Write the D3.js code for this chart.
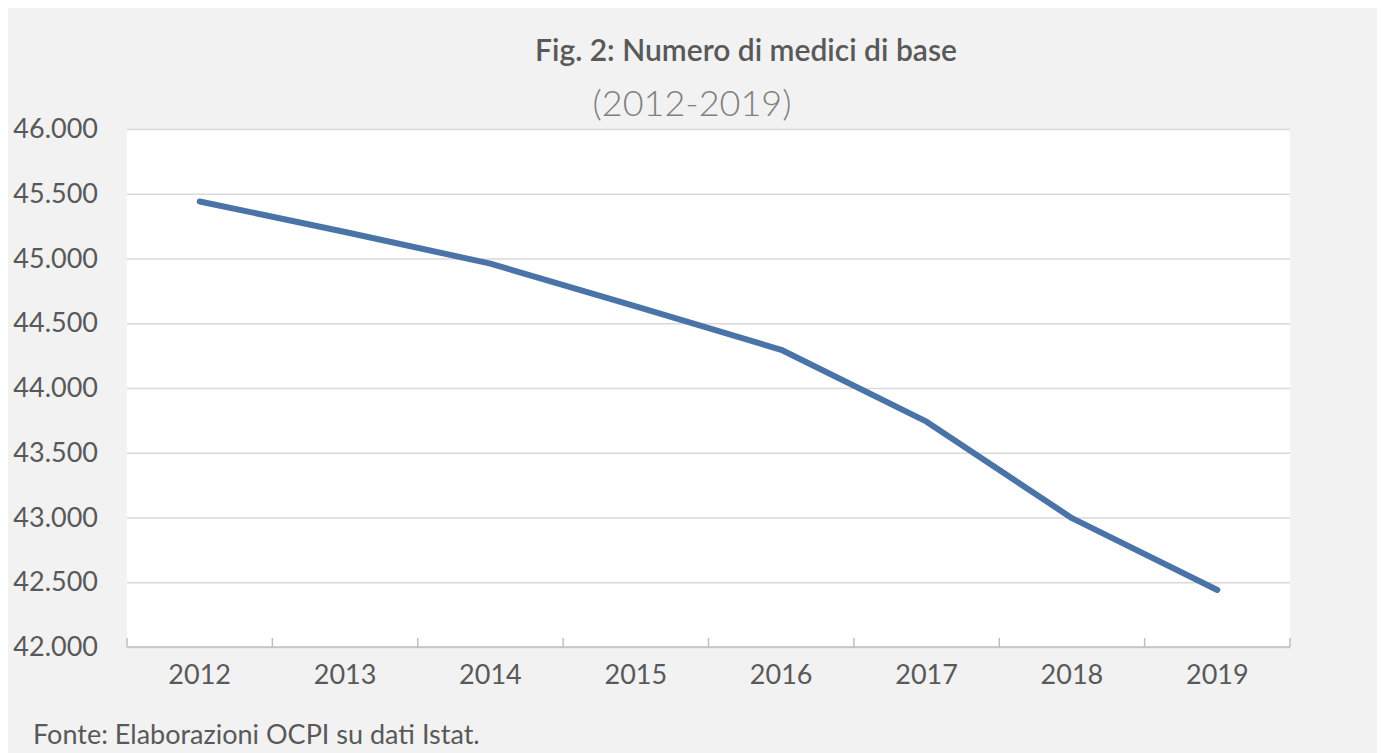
<!DOCTYPE html>
<html>
<head>
<meta charset="utf-8">
<script src="https://cdn.jsdelivr.net/npm/d3@7"></script>
<style>
  body { margin: 0; background: #fff; }
  svg { display: block; font-family: Lato, 'Open Sans', sans-serif; }
</style>
</head>
<body>
<div id="chart"></div>
<script>
const WIDTH = 1381;
const HEIGHT = 753;

const years = ['2012', '2013', '2014', '2015', '2016', '2017', '2018', '2019'];
const medici = [45440, 45205, 44960, 44630, 44295, 43740, 42995, 42440];
const yTicks = [42000, 42500, 43000, 43500, 44000, 44500, 45000, 45500, 46000];

const TITLE = 'Fig. 2: Numero di medici di base';
const SUBTITLE = '(2012-2019)';
const SOURCE = 'Fonte: Elaborazioni OCPI su dati Istat.';

const FONT = 'Lato, "Open Sans", sans-serif';

function translate(x, y) {
  return `translate(${x}, ${y})`;
}

const formatIt = d3.formatLocale({decimal: ',', thousands: '.', grouping: [3], currency: ['', '€']}).format(',.0f');

const svg = d3.select('#chart').append('svg')
  .attr('width', WIDTH)
  .attr('height', HEIGHT);

// chart background
svg.append('rect')
  .attr('x', 8).attr('y', 8)
  .attr('width', 1369).attr('height', HEIGHT - 8)
  .attr('fill', '#f2f2f2');

const margin = {top: 129, right: 91, bottom: 106, left: 127};
const width = WIDTH - margin.left - margin.right;
const height = HEIGHT - margin.top - margin.bottom;

const g = svg.append('g').attr('transform', translate(margin.left, margin.top));

g.append('rect')
  .attr('width', width)
  .attr('height', height)
  .attr('fill', '#fff');

const x = d3.scaleBand().domain(years).range([0, width]);
const y = d3.scaleLinear().domain([42000, 46000]).range([height, 0]);

// gridlines + y labels
const yAxis = g.append('g')
  .call(d3.axisLeft(y).tickValues(yTicks).tickSize(-width).tickPadding(29).tickFormat(formatIt));
yAxis.attr('font-family', FONT);
yAxis.select('.domain').remove();
yAxis.selectAll('.tick line')
  .attr('stroke', '#d9d9d9')
  .attr('stroke-width', 1.5);
yAxis.selectAll('.tick text')
  .attr('fill', '#595959')
  .attr('font-size', '27px');

// x axis, ticks at band edges pointing up
const xAxis = g.append('g').attr('transform', translate(0, height));
xAxis.append('line')
  .attr('x2', width)
  .attr('stroke', '#bfbfbf')
  .attr('stroke-width', 1.5);
xAxis.selectAll('.edge')
  .data(years.concat(['end']))
  .join('line')
  .attr('class', 'edge')
  .attr('x1', (d, i) => i < years.length ? x(d) : width)
  .attr('x2', (d, i) => i < years.length ? x(d) : width)
  .attr('y1', 0)
  .attr('y2', -9)
  .attr('stroke', '#bfbfbf')
  .attr('stroke-width', 1.5);
xAxis.selectAll('.lab')
  .data(years)
  .join('text')
  .attr('class', 'lab')
  .attr('x', d => x(d) + x.bandwidth() / 2)
  .attr('y', 28)
  .attr('dy', '0.35em')
  .attr('text-anchor', 'middle')
  .attr('fill', '#595959')
  .attr('font-size', '27px')
  .text(d => d);

// series line
const line = d3.line()
  .x((d, i) => x(years[i]) + x.bandwidth() / 2)
  .y(d => y(d));

g.append('path')
  .datum(medici)
  .attr('fill', 'none')
  .attr('stroke', '#4a74a8')
  .attr('stroke-width', 6)
  .attr('stroke-linejoin', 'round')
  .attr('stroke-linecap', 'round')
  .attr('d', line);

// titles
svg.append('text')
  .attr('x', 746)
  .attr('y', 50)
  .attr('dy', '0.35em')
  .attr('text-anchor', 'middle')
  .attr('fill', '#595959')
  .attr('font-size', '30px')
  .attr('font-weight', 600)
  .text(TITLE);

svg.append('text')
  .attr('x', 692)
  .attr('y', 103)
  .attr('dy', '0.35em')
  .attr('text-anchor', 'middle')
  .attr('fill', '#7f7f7f')
  .attr('font-size', '36px')
  .attr('font-weight', 300)
  .text(SUBTITLE);

svg.append('text')
  .attr('x', 33)
  .attr('y', 735)
  .attr('dy', '0.35em')
  .attr('fill', '#595959')
  .attr('font-size', '27px')
  .text(SOURCE);
</script>
</body>
</html>
